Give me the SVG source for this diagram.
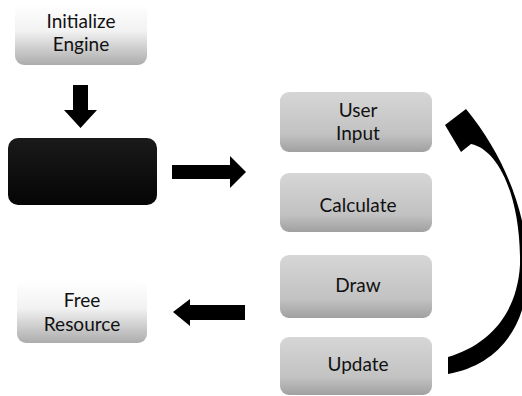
<svg xmlns="http://www.w3.org/2000/svg" width="522" height="396" viewBox="0 0 522 396">
<defs>
<linearGradient id="gw" x1="0" y1="0" x2="0" y2="1">
<stop offset="0" stop-color="#ffffff"/>
<stop offset="0.45" stop-color="#f2f2f2"/>
<stop offset="1" stop-color="#acacac"/>
</linearGradient>
<linearGradient id="gg" x1="0" y1="0" x2="0" y2="1">
<stop offset="0" stop-color="#d6d6d6"/>
<stop offset="0.7" stop-color="#c2c2c2"/>
<stop offset="1" stop-color="#a0a0a0"/>
</linearGradient>
<linearGradient id="gb" x1="0" y1="0" x2="0" y2="1">
<stop offset="0" stop-color="#1a1a1a"/>
<stop offset="1" stop-color="#050505"/>
</linearGradient>
</defs>
<style>
.lt{fill:url(#gw);}
.gr{fill:url(#gg);}
.bk{fill:url(#gb);}
text{font-family:Lato,"Open Sans",sans-serif;font-size:19px;fill:#111;text-anchor:middle;}
.ar{fill:#000;}
</style>
<g id="init">
<rect class="lt" x="15" y="3" width="132" height="62" rx="9"/>
<text x="81" y="28">Initialize</text>
<text x="81" y="51">Engine</text>
</g>
<g id="main">
<rect class="bk" x="8" y="138" width="149" height="67" rx="10"/>
</g>
<g id="userinput">
<rect class="gr" x="280" y="92" width="152" height="60" rx="9"/>
<text x="358" y="117">User</text>
<text x="358" y="140">Input</text>
</g>
<g id="calculate">
<rect class="gr" x="280" y="173" width="152" height="59" rx="9"/>
<text x="358" y="212">Calculate</text>
</g>
<g id="draw">
<rect class="gr" x="280" y="255" width="152" height="63" rx="9"/>
<text x="358" y="292">Draw</text>
</g>
<g id="update">
<rect class="gr" x="280" y="337" width="152" height="58" rx="9"/>
<text x="358" y="371">Update</text>
</g>
<g id="free">
<rect class="lt" x="17" y="280" width="130" height="63" rx="9"/>
<text x="82" y="307">Free</text>
<text x="82" y="331">Resource</text>
</g>
<g id="connectors">
<polygon class="ar" points="73,85 88,85 88,110 97,110 80.5,128 64,110 73,110"/>
<polygon class="ar" points="172,165 230,165 230,156 246,172 230,188 230,179 172,179"/>
<polygon class="ar" points="245,305 190,305 190,299 173,312 190,326 190,320 245,320"/>
<path class="ar" d="M448,357 L448,374 C492,366 522,335 527,285 C532,225 508,160 466,109 L445,125 L461,152 L471,144 C500,150 521,200 520,265 C517,315 488,345 448,357 Z"/>
</g>
</svg>
